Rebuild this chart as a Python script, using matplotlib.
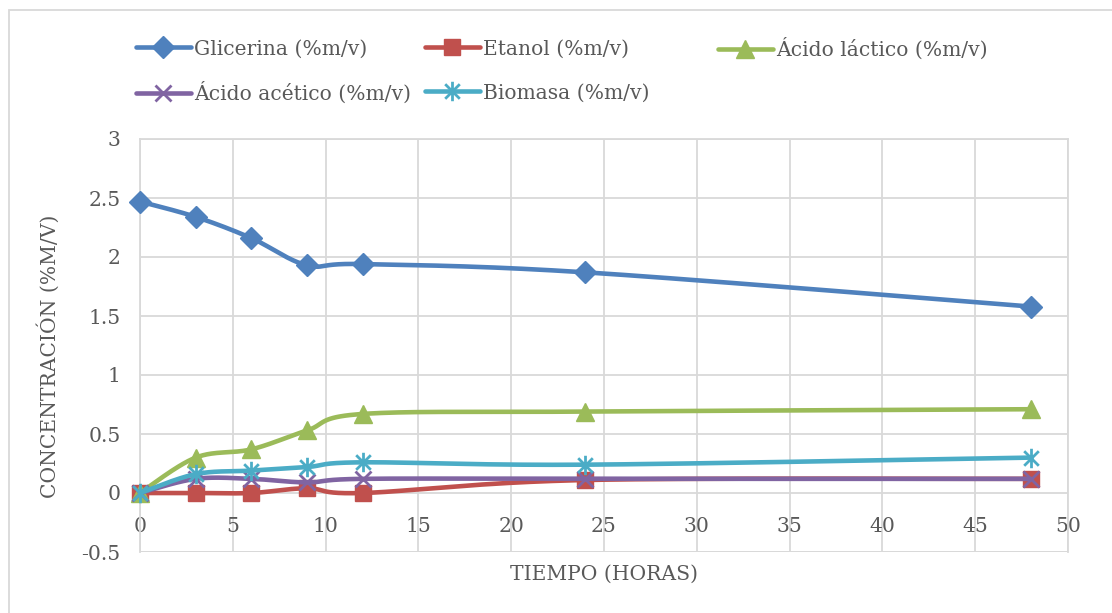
import numpy as np
import matplotlib
matplotlib.use("Agg")
import matplotlib.pyplot as plt
from matplotlib.lines import Line2D
from matplotlib.patches import Rectangle
from matplotlib.path import Path

# Sampling times (hours)
tiempo = [0, 3, 6, 9, 12, 24, 48]

# Concentrations (%m/v)
glicerina = [2.47, 2.34, 2.16, 1.93, 1.94, 1.87, 1.58]
etanol = [0.0, 0.0, 0.0, 0.04, 0.0, 0.11, 0.12]
acido_lactico = [0.0, 0.30, 0.37, 0.53, 0.67, 0.69, 0.71]
acido_acetico = [0.0, 0.12, 0.12, 0.09, 0.12, 0.12, 0.12]
biomasa = [0.0, 0.16, 0.19, 0.22, 0.26, 0.24, 0.30]

labels = ["Glicerina (%m/v)", "Etanol (%m/v)", "Ácido láctico (%m/v)",
          "Ácido acético (%m/v)", "Biomasa (%m/v)"]
colors = ["#4F81BD", "#C0504D", "#9BBB59", "#8064A2", "#4BACC6"]

FONT = "DejaVu Serif"
FS = 14.6
TXT = "#595959"
GRID = "#D9D9D9"


def smooth(xs, ys, n=40):
    """Cubic Bezier smoothing through every point (Catmull-Rom style tangents)."""
    p = np.column_stack([xs, ys]).astype(float)
    ext = np.vstack([p[0], p, p[-1]])
    t = np.linspace(0, 1, n)[:, None]
    out = []
    for i in range(len(p) - 1):
        p0, p1, p2, p3 = ext[i], ext[i + 1], ext[i + 2], ext[i + 3]
        c1 = p1 + (p2 - p0) / 6.0
        c2 = p2 - (p3 - p1) / 6.0
        seg = ((1 - t) ** 3) * p1 + 3 * ((1 - t) ** 2) * t * c1 \
            + 3 * (1 - t) * t ** 2 * c2 + t ** 3 * p2
        out.append(seg if i == 0 else seg[1:])
    out = np.vstack(out)
    return out[:, 0], out[:, 1]


# star marker: vertical stroke crossed by an x
d = 0.75
star = Path([(0, -1), (0, 1), (-d, -d), (d, d), (-d, d), (d, -d)],
            [Path.MOVETO, Path.LINETO, Path.MOVETO, Path.LINETO,
             Path.MOVETO, Path.LINETO])

W, H = 1112, 613
fig = plt.figure(figsize=(W / 100, H / 100), dpi=100)
ax = fig.add_axes([140 / W, 1 - 552 / H, (1068 - 140) / W, (552 - 139) / H])

# outer chart border
fig.patches.append(Rectangle((9 / W, -0.2), 1.2, 1 - 10 / H + 0.2,
                             transform=fig.transFigure, fill=False,
                             edgecolor=GRID, linewidth=1.3, zorder=0))

series = [glicerina, etanol, acido_lactico, acido_acetico, biomasa]
marker_kw = [
    dict(marker="D", markersize=11),
    dict(marker="s", markersize=11),
    dict(marker="^", markersize=13),
    dict(marker="x", markersize=12, markeredgewidth=2.0),
    dict(marker=star, markersize=14, markeredgewidth=2.0,
         markerfacecolor="none"),
]

handles = []
for k, (vals, col, mk) in enumerate(zip(series, colors, marker_kw)):
    sx, sy = smooth(tiempo, vals)
    ax.plot(sx, sy, color=col, lw=3.3, solid_capstyle="round", zorder=3 + k,
            clip_on=False)
    ax.plot(tiempo, vals, linestyle="none", color=col, markeredgecolor=col,
            zorder=3 + k, clip_on=False, **mk)
    handles.append(Line2D([0], [0], color=col, lw=3.3, markeredgecolor=col,
                          solid_capstyle="round", **mk))

ax.set_xlim(0, 50)
ax.set_ylim(-0.5, 3)
ax.set_xticks(np.arange(0, 51, 5))
ax.set_yticks(np.arange(-0.5, 3.01, 0.5))
ax.set_yticklabels(["-0.5", "0", "0.5", "1", "1.5", "2", "2.5", "3"])
ax.grid(True, color=GRID, lw=1.3)
ax.set_axisbelow(True)
for s in ax.spines.values():
    s.set_color(GRID)
    s.set_linewidth(1.3)
ax.spines["bottom"].set_position(("data", 0))
ax.spines["bottom"].set_visible(False)
# bottom edge of the plot area
ax.axhline(-0.5, color=GRID, lw=1.3, zorder=1)
ax.tick_params(length=0, labelsize=FS, labelcolor=TXT)
ax.tick_params(axis="x", pad=17)
ax.tick_params(axis="y", pad=14)
for lab in ax.get_xticklabels() + ax.get_yticklabels():
    lab.set_fontfamily(FONT)

fig.text(604 / W, 1 - 574 / H, "TIEMPO (HORAS)", ha="center", va="center",
         fontsize=FS, color=TXT, family=FONT)
fig.text(48 / W, 1 - 356 / H, "CONCENTRACIÓN (%M/V)", ha="center", va="center",
         rotation=90, fontsize=FS, color=TXT, family=FONT)

# legend entries placed individually
pos = [(136, 49), (425, 49), (718, 49), (136, 93), (425, 93)]
for h, lab, (px, py) in zip(handles, labels, pos):
    lg = fig.legend(handles=[h], labels=[lab], loc="center left",
                    bbox_to_anchor=(px / W, 1 - py / H), frameon=False,
                    handlelength=2.7, handletextpad=0.15, borderpad=0,
                    borderaxespad=0,
                    prop=dict(family=FONT, size=FS))
    for t in lg.get_texts():
        t.set_color(TXT)

fig.savefig("out.png", dpi=100)
